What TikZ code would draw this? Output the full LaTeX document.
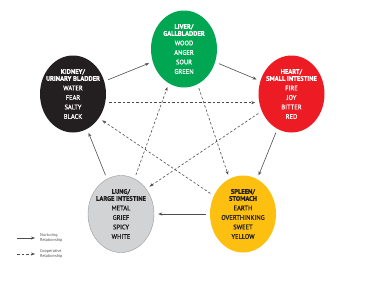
\documentclass[tikz,border=0pt]{standalone}
\usepackage{fontspec}
\setmainfont{PT Sans}
\newfontfamily\bodyfont[FakeBold=0.8]{PT Sans}
\usetikzlibrary{shapes.geometric,arrows.meta}
\definecolor{livergreen}{HTML}{00A651}
\definecolor{heartred}{HTML}{ED1C24}
\definecolor{kidneyblack}{HTML}{231F20}
\definecolor{lunggray}{HTML}{D1D3D4}
\definecolor{spleenyellow}{HTML}{FDC010}
\definecolor{arrowgray}{HTML}{4D4D4D}
\begin{document}
\begin{tikzpicture}[x=1pt, y=-1pt,
  every node/.style={font=\bodyfont\fontsize{6.5}{9.5}\selectfont},
  organ/.style={ellipse, minimum width=66pt, minimum height=77pt, inner sep=0pt},
  organtxt/.style={align=center, inner sep=0pt},
  nurture/.style={draw=arrowgray, line width=0.6pt, -{Stealth[length=4pt,width=3pt]},
                  shorten <=4pt, shorten >=4pt},
  coop/.style={nurture, dash pattern=on 2.5pt off 2pt},
  legendtxt/.style={align=left, anchor=west, inner sep=0pt, text=arrowgray,
                    font=\fontsize{4.2}{4.6}\selectfont},
]
\useasboundingbox[fill=white] (0,0) rectangle (365,284);

%% ── Organs ──────────────────────────────────────────────────────────────────
\node[organ, fill=livergreen] (liver) at (184,49) {};
\node[organtxt, white] (liver-t) at (liver)
  {\textbf{LIVER/}\\[-2.5pt]\textbf{GALLBLADDER}\\WOOD\\ANGER\\SOUR\\GREEN};

\node[organ, fill=heartred] (heart) at (291.5,94) {};
\node[organtxt, white] (heart-t) at (heart)
  {\textbf{HEART/}\\[-2.5pt]\textbf{SMALL INTESTINE}\\FIRE\\JOY\\BITTER\\RED};

\node[organ, fill=spleenyellow] (spleen) at (243,214) {};
\node[organtxt, kidneyblack] (spleen-t) at (spleen)
  {\textbf{SPLEEN/}\\[-2.5pt]\textbf{STOMACH}\\EARTH\\OVERTHINKING\\SWEET\\YELLOW};

\node[organ, fill=lunggray, draw=gray!80] (lung) at (121,214) {};
\node[organtxt, kidneyblack] (lung-t) at (lung)
  {\textbf{LUNG/}\\[-2.5pt]\textbf{LARGE INTESTINE}\\METAL\\GRIEF\\SPICY\\WHITE};

\node[organ, fill=kidneyblack] (kidney) at (73,94) {};
\node[organtxt, white] (kidney-t) at (kidney)
  {\textbf{KIDNEY/}\\[-2.5pt]\textbf{URINARY BLADDER}\\WATER\\FEAR\\SALTY\\BLACK};

%% ── Nurturing cycle ─────────────────────────────────────────────────────────
\draw[nurture] (kidney) -- (liver);
\draw[nurture] (liver) -- (heart);
\draw[nurture] (heart) -- (spleen);
\draw[nurture] (spleen) -- (lung);
\draw[nurture] (lung) -- (kidney);

%% ── Cooperative star ────────────────────────────────────────────────────────
\draw[coop] (kidney.345) -- (heart.195);
\draw[coop] (heart.210) -- (lung.45);
\draw[coop] (lung.69) -- (liver.246);
\draw[coop] (liver.291) -- (spleen.111);
\draw[coop] (spleen.148) -- (kidney.317);

%% ── Legend ──────────────────────────────────────────────────────────────────
\coordinate (nurture-a) at (17,238);
\coordinate (nurture-b) at (35,238);
\draw[nurture, shorten <=0pt, shorten >=0pt] (nurture-a) -- (nurture-b);
\node[legendtxt] (nurture-txt) at (40,238) {Nurturing\\Relationship};

\coordinate (coop-a) at (17,254);
\coordinate (coop-b) at (35,254);
\draw[coop, shorten <=0pt, shorten >=0pt] (coop-a) -- (coop-b);
\node[legendtxt] (coop-txt) at (40,254) {Cooperative\\Relationship};

\end{tikzpicture}
\end{document}
